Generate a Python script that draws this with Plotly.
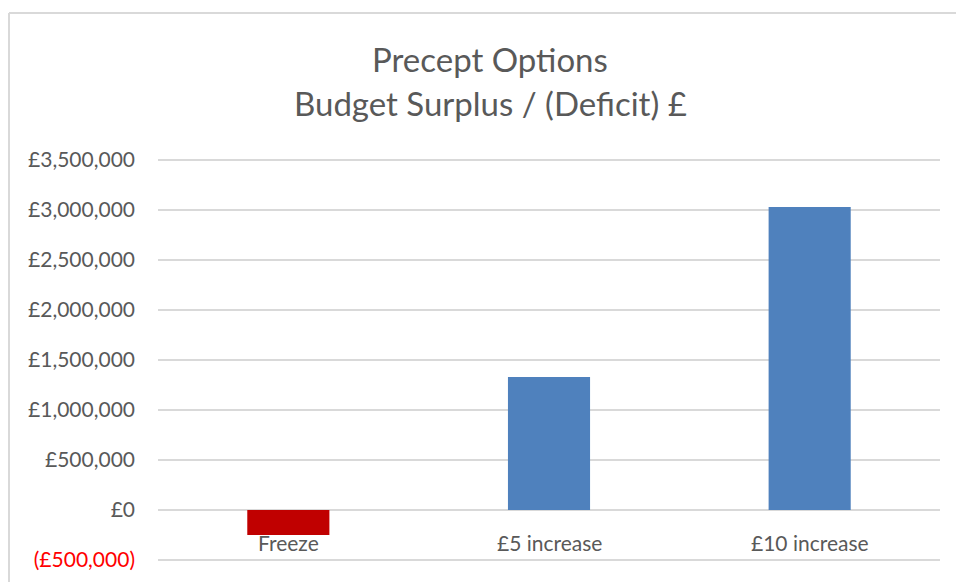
import plotly.graph_objects as go

categories = ["Freeze", "£5 increase", "£10 increase"]
values = [-250000, 1330000, 3030000]
tick_values = [-500000, 0, 500000, 1000000, 1500000, 2000000, 2500000, 3000000, 3500000]
tick_labels = ["<span style='color:#ff0000'>(£500,000)</span>", "£0", "£500,000", "£1,000,000",
               "£1,500,000", "£2,000,000", "£2,500,000", "£3,000,000", "£3,500,000"]
title_lines = ["Precept Options", "Budget Surplus / (Deficit) £"]

FONT = "Lato"
GREY = "#595959"

colors = ["#c00000" if v < 0 else "#4f81bd" for v in values]

fig = go.Figure(go.Bar(x=categories, y=values, marker=dict(color=colors, line=dict(width=0)),
                       width=0.315))

W, H = 956, 582
L, T = 158, 157
R = W - 940
B = H - 563
pw, ph = W - L - R, H - T - B

def px_x(p):
    return (p - L) / pw

def px_y(p):
    return (H - B - p) / ph

annotations = []
for cat in categories:
    annotations.append(dict(x=cat, y=0, xref="x", yref="y", text=cat, showarrow=False,
                            yanchor="top", yshift=-18,
                            font=dict(family=FONT, size=21, color=GREY)))
annotations.append(dict(x=px_x(490), y=px_y(59), xref="paper", yref="paper", text=title_lines[0],
                        showarrow=False, xanchor="center", yanchor="middle",
                        font=dict(family=FONT, size=33, color=GREY)))
annotations.append(dict(x=px_x(490), y=px_y(103), xref="paper", yref="paper", text=title_lines[1],
                        showarrow=False, xanchor="center", yanchor="middle",
                        font=dict(family=FONT, size=33, color=GREY)))

border = dict(color="#d9d9d9", width=2)
fig.update_layout(
    width=W, height=H,
    margin=dict(l=L, r=R, t=T, b=B, autoexpand=False),
    paper_bgcolor="white", plot_bgcolor="white",
    showlegend=False,
    annotations=annotations,
    shapes=[
        dict(type="line", xref="paper", yref="paper", x0=px_x(9), x1=px_x(990),
             y0=px_y(13), y1=px_y(13), line=border, layer="below"),
        dict(type="line", xref="paper", yref="paper", x0=px_x(9), x1=px_x(9),
             y0=px_y(13), y1=px_y(620), line=border, layer="below"),
    ],
    xaxis=dict(showticklabels=False, showgrid=False, zeroline=False, showline=False,
               automargin=False),
    yaxis=dict(range=[-530000, 3530000], tickvals=tick_values, ticktext=tick_labels,
               showgrid=True, gridcolor="#d9d9d9", gridwidth=1.5,
               zeroline=True, zerolinecolor="#d9d9d9", zerolinewidth=1.5,
               showline=False, ticks="", ticklabelstandoff=22, automargin=False,
               tickfont=dict(family=FONT, size=21, color=GREY)),
)

fig.write_html("out.html", config={"displayModeBar": False},
               post_script="document.body.style.margin='0';document.body.style.overflow='hidden';")
